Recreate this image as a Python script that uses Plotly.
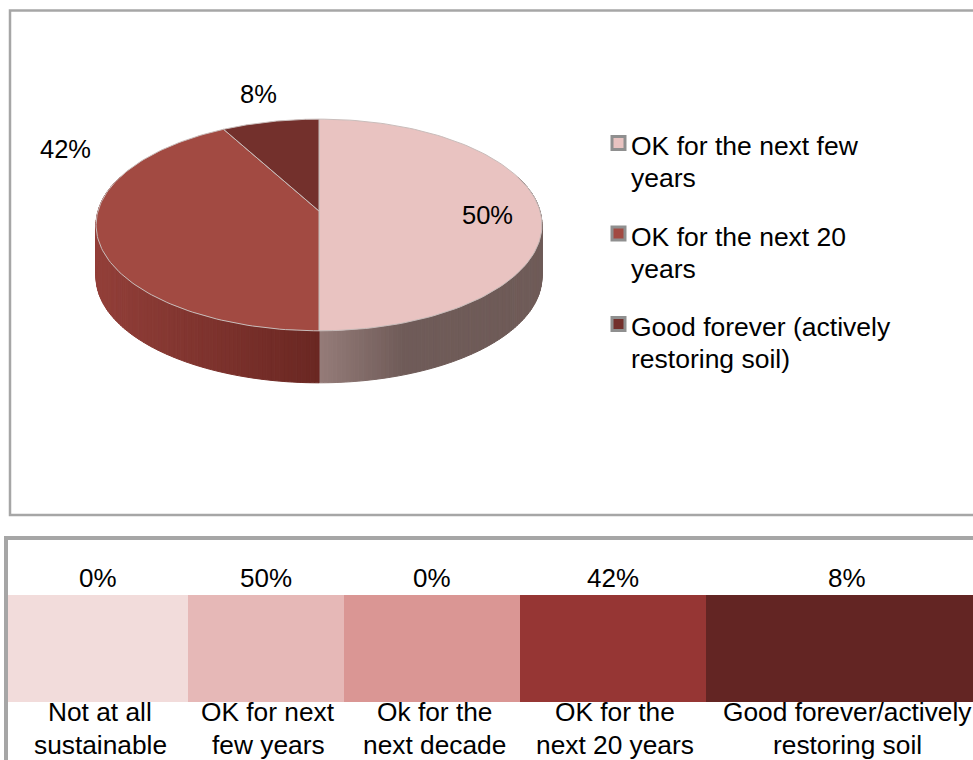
import numpy as np
import plotly.graph_objects as go

# ---- data ----
pie_labels = ["OK for the next few<br>years", "OK for the next 20<br>years", "Good forever (actively<br>restoring soil)"]
pie_values = [50, 42, 8]
pie_text = ["50%", "42%", "8%"]
band_labels = ["Not at all<br>sustainable", "OK for next<br>few years", "Ok for the<br>next decade", "OK for the<br>next 20 years", "Good forever/actively<br>restoring soil"]
band_values = [0, 50, 0, 42, 8]

# ---- style / layout ----
FONT = "Liberation Sans, Arial, sans-serif"
W, H = 973, 760
pie_colors = ["#E9C3C1", "#A24A42", "#73302C"]
band_colors = ["#F2DCDB", "#E6B8B7", "#DA9694", "#963634", "#632523"]
band_edges = np.array([8, 188, 344, 520, 706, 988])
GRAY = "#A6A6A6"

cx, cy, R, S, K, DEPTH = 319.0, 211.0, 221.0, 104.0, 0.132, 52.0


def project(theta):
    u, v = np.sin(theta), np.cos(theta)
    d = 1 + K * v
    return cx + R * u / d, cy - S * v / d


def hex_rgb(h):
    return np.array([int(h[i:i + 2], 16) for i in (1, 3, 5)], float)


def mix(a, b, t):
    c = hex_rgb(a) * (1 - t) + hex_rgb(b) * t
    return "rgb(%d,%d,%d)" % tuple(c.round())


def rim_color(x):
    if x >= cx:
        return mix("#957C79", "#6F5B58", min((x - cx) / 85.0, 1.0))
    return mix("#6A2722", "#923F39", min((cx - x) / 222.0, 1.0))


fig = go.Figure()

# rim of the pie
fractions = np.cumsum([0] + pie_values) / sum(pie_values)
angles = fractions * 2 * np.pi
edges = np.radians(np.arange(70.0, 291.0, 1.0))
for t0, t1 in zip(edges[:-1], edges[1:]):
    ts = np.array([t0, t1])
    x, y = project(ts)
    col = rim_color(float(x.mean()))
    fig.add_trace(go.Scatter(
        x=[x[0], x[1], x[1], x[0], x[0]],
        y=[y[0], y[1], y[1] + DEPTH, y[0] + DEPTH, y[0]],
        mode="lines", fill="toself", fillcolor=col,
        line=dict(color=col, width=1), hoverinfo="skip", showlegend=False))

# top faces
for i, name in enumerate(pie_labels):
    ts = np.linspace(angles[i], angles[i + 1], 120)
    x, y = project(ts)
    fig.add_trace(go.Scatter(
        x=np.r_[cx, x, cx], y=np.r_[cy, y, cy],
        mode="lines", fill="toself", fillcolor=pie_colors[i],
        line=dict(color="#C9BDBB", width=1), name=name.replace("<br>", " "),
        hoverinfo="name", showlegend=False))

# colour band
widths = np.diff(band_edges)
centers = band_edges[:-1] + widths / 2
fig.add_trace(go.Bar(
    x=centers, y=[107] * len(band_values), base=595, width=widths,
    marker=dict(color=band_colors, line=dict(width=0)),
    customdata=band_values, hoverinfo="skip", showlegend=False))

annotations = []


def label(x, y, text, size=26, anchor="center"):
    annotations.append(dict(
        x=x, y=y, xref="x", yref="y", text=text, showarrow=False,
        xanchor=anchor, yanchor="middle", align=anchor,
        font=dict(family=FONT, size=size, color="#000000")))


for txt, x, y in zip(pie_text, (487.5, 65, 258), (215, 149, 94)):
    label(x, y, txt, 25.5)

for i, v in enumerate(band_values):
    label(centers[i], 578, "%d%%" % v, 26)
    for j, line in enumerate(band_labels[i].split("<br>")):
        label(centers[i] + (2 if i < 4 else 0), 712 + 33 * j, line, 26.3)

shapes = [
    dict(type="rect", x0=10, y0=10.5, x1=1000, y1=515, line=dict(color=GRAY, width=2.5), layer="below"),
    dict(type="rect", x0=6, y0=538, x1=1000, y1=820, line=dict(color=GRAY, width=4), layer="above"),
]

# legend rows
for i, name in enumerate(pie_labels):
    yc = 143 + i * 90.5
    shapes.append(dict(type="rect", x0=612, x1=625, y0=yc - 6.5, y1=yc + 6.5,
                       fillcolor=pie_colors[i], line=dict(color="#8F8F8F", width=3)))
    for j, line in enumerate(name.split("<br>")):
        label(629, yc + 3 + 32 * j, line, 26.5, "left")

fig.update_layout(
    width=W, height=H, margin=dict(l=0, r=0, t=0, b=0),
    paper_bgcolor="white", plot_bgcolor="white", showlegend=False,
    xaxis=dict(range=[0, W], visible=False, fixedrange=True),
    yaxis=dict(range=[H, 0], visible=False, fixedrange=True),
    shapes=shapes, annotations=annotations, bargap=0,
)
fig.write_html("out.html", config={"displayModeBar": False},
               post_script="document.body.style.margin='0';document.body.style.overflow='hidden';")
